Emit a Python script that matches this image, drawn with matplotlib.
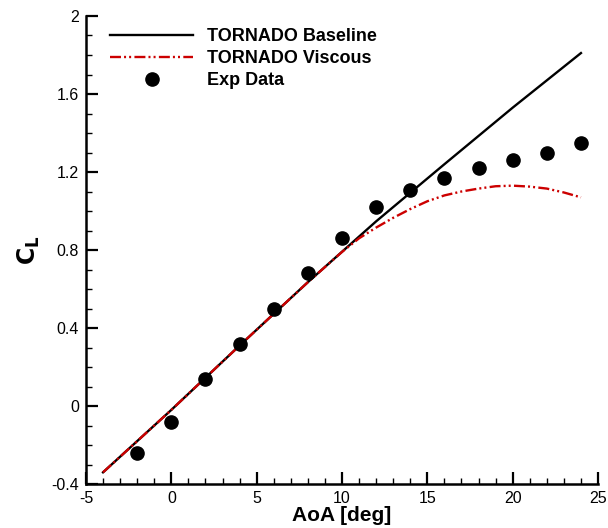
import numpy as np
import matplotlib
matplotlib.use("Agg")
import matplotlib.pyplot as plt
from matplotlib.ticker import MultipleLocator

plt.rcParams['font.family'] = ['Liberation Sans', 'DejaVu Sans']
plt.rcParams['axes.unicode_minus'] = False

# TORNADO results
aoa_base = [-4, 0, 4, 8, 12, 16, 20, 24]
cl_base = [-0.34, -0.02, 0.31, 0.635, 0.947, 1.24, 1.53, 1.81]

aoa_visc = [-4, 0, 4, 8, 10, 11, 12, 13, 14, 15, 16, 17, 18, 19, 20, 21, 22, 23, 24]
cl_visc = [-0.34, -0.02, 0.31, 0.635, 0.79, 0.86, 0.915, 0.965, 1.01, 1.05, 1.08,
           1.10, 1.115, 1.127, 1.13, 1.125, 1.115, 1.095, 1.07]

# wind tunnel
aoa_exp = [-2, 0, 2, 4, 6, 8, 10, 12, 14, 16, 18, 20, 22, 24]
cl_exp = [-0.24, -0.08, 0.14, 0.32, 0.50, 0.68, 0.86, 1.02, 1.11, 1.17, 1.22, 1.26, 1.30, 1.35]

fig = plt.figure(figsize=(6.08, 5.28), dpi=100)
ax = fig.add_axes([0.1414, 0.0833, 0.8422, 0.8864])

ax.plot(aoa_base, cl_base, color='black', lw=1.7, label='TORNADO Baseline')
ax.plot(aoa_visc, cl_visc, color='#cc0000', lw=1.7, dashes=[4.65, 1.3, 0.85, 1.3, 0.85, 1.4],
        label='TORNADO Viscous')
ax.plot(aoa_exp, cl_exp, 'o', color='black', ms=9.5, label='Exp Data')

ax.set_xlim(-5, 25)
ax.set_ylim(-0.4, 2)
ax.xaxis.set_major_locator(MultipleLocator(5))
ax.xaxis.set_minor_locator(MultipleLocator(1))
ax.yaxis.set_major_locator(MultipleLocator(0.4))
ax.yaxis.set_minor_locator(MultipleLocator(0.1))
ax.yaxis.set_major_formatter(plt.FuncFormatter(lambda v, p: '%g' % round(v, 1)))

for s in ['top', 'right']:
    ax.spines[s].set_visible(False)
for s in ['left', 'bottom']:
    ax.spines[s].set_linewidth(1.8)
ax.tick_params(which='major', direction='in', length=8.5, width=1.6, labelsize=11.5, pad=5)
ax.tick_params(which='minor', direction='in', length=4.5, width=1.0)

ax.set_xlabel('AoA [deg]', fontsize=15, fontweight='bold', labelpad=0)
ax.set_ylabel(r'$\mathbf{C_L}$', fontsize=17, fontweight='bold', labelpad=7)

ax.legend(loc='upper left', bbox_to_anchor=(0.033, 0.99), frameon=False,
          prop={'weight': 'bold', 'size': 13}, handlelength=4.6, handletextpad=0.75,
          labelspacing=0.28, borderaxespad=0)

fig.savefig('out.png', dpi=100)
